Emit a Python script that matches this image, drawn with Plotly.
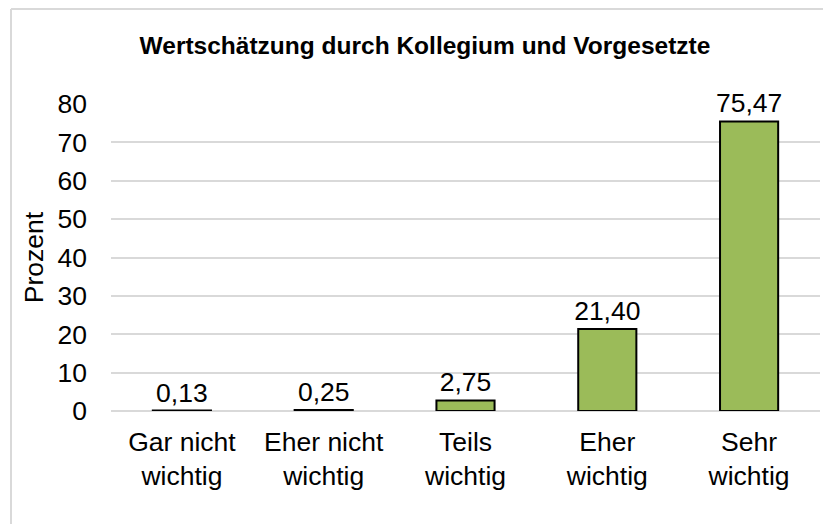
import plotly.graph_objects as go

categories = ["Gar nicht<br>wichtig", "Eher nicht<br>wichtig", "Teils<br>wichtig", "Eher<br>wichtig", "Sehr<br>wichtig"]
values = [0.13, 0.25, 2.75, 21.40, 75.47]
y_ticks = [0, 10, 20, 30, 40, 50, 60, 70, 80]
title_text = "Wertschätzung durch Kollegium und Vorgesetzte"
y_title = "Prozent"

# page has an 8px body margin on every side; keep the figure inside the window
OFF = 8
W, H = 831 - 2 * OFF, 532 - 2 * OFF
L, T = 111 - OFF, 104 - OFF
R = W - (820 - OFF)
B = H - (411 - OFF)
pw = W - L - R
ph = H - T - B

FONT = "Liberation Sans, Arial"
FS = 26.5

fig = go.Figure(go.Bar(
    x=categories, y=values,
    marker=dict(color="#9BBB59", line=dict(color="#000000", width=2)),
    texttemplate="%{y:.2f}", textposition="outside", constraintext="none",
    textfont=dict(size=FS, color="#000000", family=FONT),
    cliponaxis=False,
))

fig.update_layout(
    width=W, height=H,
    margin=dict(l=L, r=R, t=T, b=B, autoexpand=False),
    paper_bgcolor="white", plot_bgcolor="white",
    separators=",.",
    bargap=0.59,
    font=dict(family=FONT, size=FS, color="#000000"),
    showlegend=False,
    title=dict(text="<b>" + title_text + "</b>", x=(425 - OFF) / W, xanchor="center",
               y=1 - (45 - OFF) / H, yanchor="middle",
               font=dict(size=24.5, color="#000000", family=FONT)),
    xaxis=dict(showgrid=False, showline=False, ticks="", ticklabelstandoff=12,
               tickfont=dict(size=FS, color="#000000")),
    yaxis=dict(range=[0, 80], tickvals=y_ticks, showgrid=True, gridcolor="#D9D9D9",
               gridwidth=1.5, zeroline=True, zerolinecolor="#D9D9D9", zerolinewidth=1.5,
               showline=False, ticks="", ticklabelstandoff=23,
               tickfont=dict(size=FS, color="#000000"),
               title=dict(text=y_title, standoff=6, font=dict(size=FS, color="#000000"))),
)

# outer chart border: only left and top edges are visible in the reference
bx = (11 - OFF - L) / pw
by = (H - B - (9 - OFF)) / ph
fig.add_shape(type="line", xref="paper", yref="paper", x0=bx, x1=bx, y0=by, y1=-B / ph,
              line=dict(color="#D9D9D9", width=2), layer="below")
fig.add_shape(type="line", xref="paper", yref="paper", x0=bx, x1=(W - L) / pw, y0=by, y1=by,
              line=dict(color="#D9D9D9", width=2), layer="below")

fig.write_html("out.html")
